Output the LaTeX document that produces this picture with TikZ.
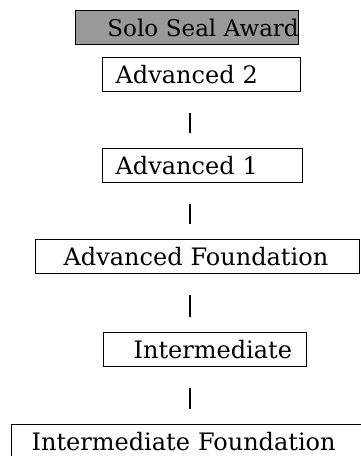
\documentclass[tikz,border=0pt]{standalone}
\usepackage{fontspec}
\setmainfont{DejaVu Serif}
\usetikzlibrary{positioning}
\tikzset{
  tier/.style={
    rectangle, draw, line width=1.2pt, fill=white,
    minimum height=34pt, inner xsep=0pt, inner ysep=0pt,
    align=left, anchor=north west, font=\fontsize{24}{28}\selectfont
  },
  award/.style={tier, fill=black!40, line width=1.4pt, align=right,
    font=\fontsize{23}{28}\selectfont},
  link/.style={line width=2pt, shorten <=21pt, shorten >=15pt},
}

\begin{document}
\begin{tikzpicture}[x=1pt, y=-1pt]
  \useasboundingbox (0,0) rectangle (361,456);

  % Award on top
  \node[award, text width=223pt] (solo) at (75,10) {Solo Seal Award\hspace*{1pt}};

  % Tiers, top to bottom
  \node[tier, text width=198pt] (adv2) at (102,57) {\hspace*{13pt}Advanced 2};
  \node[tier, text width=200pt] (adv1) at (102,148) {\hspace*{13pt}Advanced 1};
  \node[tier, text width=324pt] (advf) at (35,239) {\hspace*{28pt}Advanced Foundation};
  \node[tier, text width=203pt] (inter) at (103,332) {\hspace*{30pt}Intermediate};
  \node[tier, text width=390pt] (interf) at (11,424) {\hspace*{20pt}Intermediate Foundation};

  % Connectors
  \coordinate (axis) at (190,0);
  \draw[link] (adv2.south -| axis) -- (adv1.north -| axis);
  \draw[link] (adv1.south -| axis) -- (advf.north -| axis);
  \draw[link] (advf.south -| axis) -- (inter.north -| axis);
  \draw[link] (inter.south -| axis) -- (interf.north -| axis);
\end{tikzpicture}
\end{document}
